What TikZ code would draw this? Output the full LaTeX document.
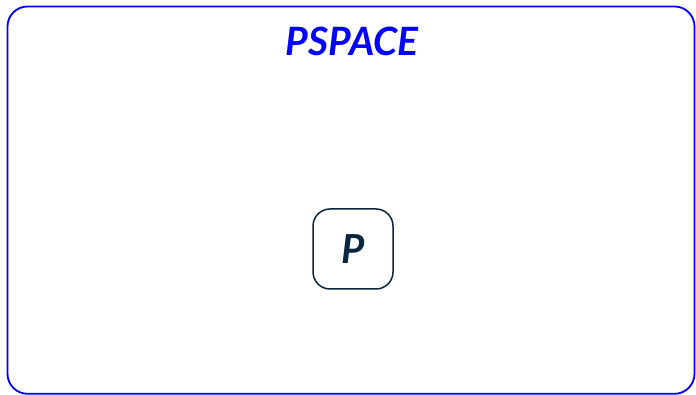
\documentclass[tikz,border=0pt]{standalone}
\usepackage{fontspec}
\setmainfont{Lato}
\definecolor{navy}{HTML}{0A2540}
\tikzset{
  region/.style={draw=blue, line width=1.8pt, rounded corners=20pt},
  classbox/.style={draw=navy, line width=1.5pt, rounded corners=17pt, minimum width=80pt, minimum height=80pt, inner sep=0pt, text=navy, font=\fontsize{40}{44}\selectfont\bfseries\itshape},
  title/.style={text=blue, font=\fontsize{39}{44}\selectfont\bfseries\itshape}
}
\begin{document}
\begin{tikzpicture}[x=1pt,y=1pt]
\useasboundingbox (0,0) rectangle (696,-395);
\draw[region] (7.5,-6.5) rectangle (694.5,-393.8);
\node[title] (t) at (352,-41) {PSPACE};
\node[classbox] (p) at (353,-249) {P};
\end{tikzpicture}
\end{document}
